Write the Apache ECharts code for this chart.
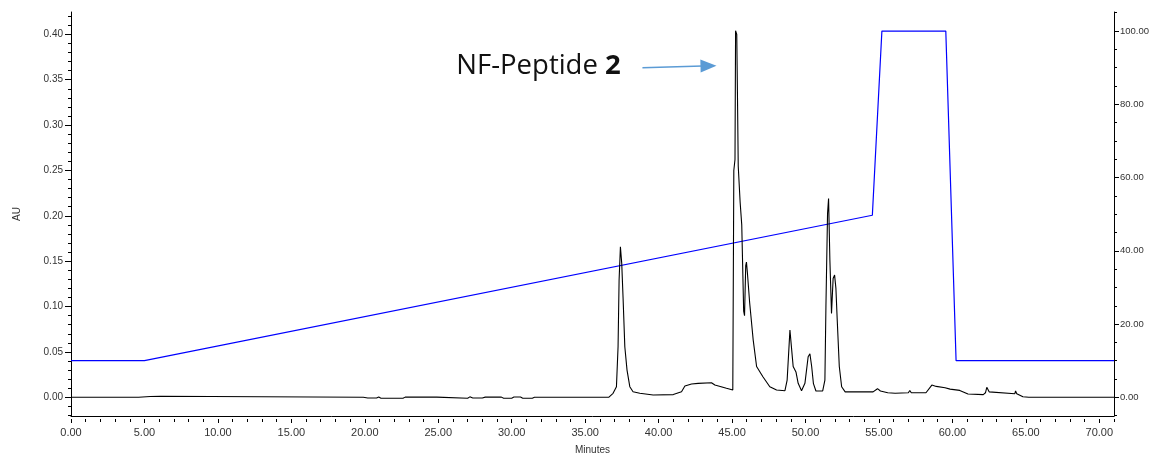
<!DOCTYPE html>
<html><head><meta charset="utf-8">
<script src="https://cdn.jsdelivr.net/npm/echarts@6/dist/echarts.min.js"></script>
<style>html,body{margin:0;padding:0;background:#fff}#c{width:1159px;height:457px}</style>
</head><body><div id="c"></div>
<script>
// ---- data ----
const chromTime = [0,4.6,4.7,5.4,5.5,6.1,6.2,19.9,20.0,20.2,20.8,20.95,21.1,22.6,22.75,24.9,25.0,27.0,27.15,27.35,28.0,28.2,29.3,29.45,30.0,30.15,30.6,30.75,31.4,31.55,36.6,36.9,37.13,37.24,37.31,37.4,37.49,37.58,37.7,37.85,38.04,38.26,38.72,39.63,41.0,41.56,41.79,41.9,42.24,42.69,43.6,43.83,44.62,45.05,45.12,45.2,45.24,45.32,45.37,45.42,45.55,45.66,45.79,45.85,45.93,45.98,46.04,46.2,46.44,46.67,47.1,47.57,48.03,48.6,48.75,48.94,49.0,49.16,49.35,49.5,49.73,49.96,50.18,50.3,50.42,50.54,50.71,51.17,51.32,51.39,51.5,51.57,51.66,51.77,51.88,51.98,52.07,52.16,52.3,52.46,52.7,53.4,54.6,54.9,55.1,55.6,56.1,57.0,57.1,57.2,58.2,58.6,58.9,59.5,59.84,60.5,61.06,62.1,62.25,62.34,62.5,62.6,64.25,64.3,64.38,64.8,65.2,71];
const chromAU = [0,0,0.0012,0.0009,0.0012,0.0011,0,0,0.0005,-0.0008,-0.0008,0.0003,-0.001,-0.001,0.0002,0.0002,-0.001,-0.001,0.0005,-0.0008,-0.0008,0.0002,0.0002,-0.001,-0.001,0.0003,0.0003,-0.001,-0.001,0,0,0.0044,0.0117,0.0557,0.129,0.166,0.1476,0.11,0.0557,0.03,0.0117,0.0062,0.0044,0.0025,0.003,0.0062,0.0124,0.011,0.0146,0.0154,0.0161,0.0135,0.0099,0.008,0.25,0.262,0.404,0.40,0.33,0.255,0.215,0.19,0.095,0.09,0.145,0.149,0.138,0.104,0.063,0.034,0.0227,0.0117,0.008,0.0073,0.019,0.074,0.076,0.034,0.028,0.0154,0.0073,0.0154,0.0447,0.048,0.034,0.015,0.007,0.007,0.019,0.0998,0.2026,0.219,0.151,0.0925,0.131,0.1347,0.12,0.085,0.034,0.0117,0.006,0.006,0.006,0.0095,0.007,0.005,0.0044,0.005,0.0075,0.005,0.005,0.0135,0.012,0.0105,0.009,0.0076,0.0036,0.003,0.005,0.011,0.006,0.005,0.004,0.007,0.004,0.0006,0,0];
const gradTime = [0,5,54.55,55.2,59.55,60.25,71];
const gradPct = [10,10,49.7,100,100,10,10];

const xLabelTicks = [0,5,10,15,20,25,30,35,40,45,50,55,60,65,70];
const auLabelTicks = [0,0.05,0.10,0.15,0.20,0.25,0.30,0.35,0.40];
const pctLabelTicks = [0,20,40,60,80,100];
const xMinorStep = 1, auMinorStep = 0.01, pctMinorStep = 5;

const annotationLabel = 'NF-Peptide ';
const annotationNumber = '2';
const annotationTextAt = [26.23, 0.3654];
const arrowFrom = [38.9, 0.3633];
const arrowTo = [43.94, 0.3655];

// ---- helpers ----
function steps(a, b, s){ const r=[]; const n=Math.round((b-a)/s); for(let i=0;i<=n;i++) r.push(+(a+i*s).toFixed(4)); return r; }
const xMinorTicks = steps(0, 71, xMinorStep);
const auMinorTicks = steps(-0.02, 0.42, auMinorStep);
const pctMinorTicks = steps(-5, 105, pctMinorStep);

const FONT = 'Liberation Sans, Arial, sans-serif';
const TXT = '#333';
const AU_MIN = -0.0206, AU_MAX = 0.4246, P_MIN = -5.1, P_MAX = 105.2;

const chart = echarts.init(document.getElementById('c'), null, {renderer:'canvas'});
const noSplit = {show:false};
const option = {
  animation:false,
  backgroundColor:'#fff',
  grid:{left:71, right:45, top:12, bottom:41, containLabel:false, outerBoundsMode:'none'},
  xAxis:[
    {type:'value', position:'bottom', min:0, max:71, splitLine:noSplit,
     axisLine:{show:true, onZero:false, lineStyle:{color:'#000', width:1}},
     axisTick:{show:false},
     axisLabel:{customValues:xLabelTicks, formatter:v=>v.toFixed(2), fontSize:11, color:TXT, margin:11, fontFamily:FONT},
     name:'Minutes', nameLocation:'middle', nameGap:29, nameTextStyle:{fontSize:10, color:TXT, fontFamily:FONT}},
    {type:'value', position:'bottom', offset:3, min:0, max:71, splitLine:noSplit,
     axisLine:{show:false, onZero:false}, axisLabel:{show:false},
     axisTick:{show:true, customValues:xMinorTicks, length:3, lineStyle:{color:'#000'}}},
    {type:'value', position:'bottom', offset:3, min:0, max:71, splitLine:noSplit,
     axisLine:{show:false, onZero:false}, axisLabel:{show:false},
     axisTick:{show:true, customValues:xLabelTicks, length:4, lineStyle:{color:'#000'}}}
  ],
  yAxis:[
    {type:'value', position:'left', min:AU_MIN, max:AU_MAX, splitLine:noSplit,
     axisLine:{show:true, onZero:false, lineStyle:{color:'#000', width:1}},
     axisTick:{show:true, customValues:auLabelTicks, length:6, lineStyle:{color:'#000'}},
     axisLabel:{customValues:auLabelTicks, formatter:v=>v.toFixed(2), fontSize:10, color:TXT, margin:8, fontFamily:FONT},
     name:'AU', nameLocation:'middle', nameGap:49, nameRotate:90, nameTextStyle:{fontSize:10, color:TXT, fontFamily:FONT}},
    {type:'value', position:'left', min:AU_MIN, max:AU_MAX, splitLine:noSplit,
     axisLine:{show:false, onZero:false}, axisLabel:{show:false},
     axisTick:{show:true, customValues:auMinorTicks, length:3, lineStyle:{color:'#000'}}},
    {type:'value', position:'right', min:P_MIN, max:P_MAX, splitLine:noSplit,
     axisLine:{show:true, onZero:false, lineStyle:{color:'#000', width:1}},
     axisTick:{show:true, customValues:pctLabelTicks, length:5, lineStyle:{color:'#000'}},
     axisLabel:{customValues:pctLabelTicks, formatter:v=>v.toFixed(2), fontSize:9.5, color:TXT, margin:6, fontFamily:FONT}},
    {type:'value', position:'right', min:P_MIN, max:P_MAX, splitLine:noSplit,
     axisLine:{show:false, onZero:false}, axisLabel:{show:false},
     axisTick:{show:true, customValues:pctMinorTicks, length:3, lineStyle:{color:'#000'}}}
  ],
  series:[
    {type:'line', name:'%B', xAxisIndex:0, yAxisIndex:2, symbol:'none', showSymbol:false,
     data:gradTime.map((t,i)=>[t,gradPct[i]]), lineStyle:{color:'#0000ff', width:1.2}, z:2},
    {type:'line', name:'AU', xAxisIndex:0, yAxisIndex:0, symbol:'none', showSymbol:false, sampling:null,
     data:chromTime.map((t,i)=>[t,chromAU[i]]), lineStyle:{color:'#000', width:1.1}, z:3}
  ]
};
chart.setOption(option);

// annotation positioned from data coordinates
const p0 = chart.convertToPixel({xAxisIndex:0, yAxisIndex:0}, arrowFrom);
const p1 = chart.convertToPixel({xAxisIndex:0, yAxisIndex:0}, arrowTo);
const pt = chart.convertToPixel({xAxisIndex:0, yAxisIndex:0}, annotationTextAt);
const ang = Math.atan2(p1[1]-p0[1], p1[0]-p0[0]);
const headL = 16, headW = 6.5;
const bx = p1[0]-headL*Math.cos(ang), by = p1[1]-headL*Math.sin(ang);
const nx = -Math.sin(ang), ny = Math.cos(ang);
chart.setOption({
  graphic:[
    {type:'line', shape:{x1:p0[0], y1:p0[1], x2:bx+2*Math.cos(ang), y2:by+2*Math.sin(ang)}, style:{stroke:'#5B9BD5', lineWidth:1.5}, z:10},
    {type:'polygon', shape:{points:[[p1[0],p1[1]],[bx+nx*headW,by+ny*headW],[bx-nx*headW,by-ny*headW]]}, style:{fill:'#5B9BD5'}, z:10},
    {type:'text', x:pt[0], y:pt[1], z:10,
     style:{text:'{a|'+annotationLabel+'}{b|'+annotationNumber+'}', align:'left', verticalAlign:'middle',
       rich:{a:{fontFamily:'Open Sans', fontSize:27.5, fill:'#111'}, b:{fontFamily:'Open Sans', fontSize:27.5, fontWeight:'bold', fill:'#111'}}}}
  ]
});
</script></body></html>
